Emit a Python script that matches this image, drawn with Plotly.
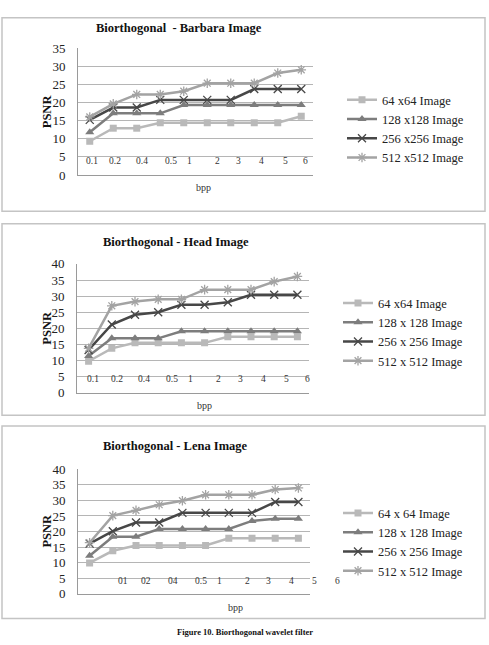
import plotly.graph_objects as go

W, H = 489, 645

# ---------------- data ----------------
bpp = ["0.1", "0.2", "0.4", "0.5", "1", "2", "3", "4", "5", "6"]

barbara_labels = ["0.1", "0.2", "0.4", "0.5", "1", "2", "3", "4", "5", "6"]
barbara_names = ["64 x64 Image", "128 x128 Image", "256 x256 Image", "512 x512 Image"]
barbara_64 = [9.3, 12.9, 12.9, 14.4, 14.4, 14.4, 14.4, 14.4, 14.4, 16.2]
barbara_128 = [11.8, 17.0, 17.0, 17.0, 19.3, 19.3, 19.3, 19.3, 19.3, 19.3]
barbara_256 = [15.2, 18.6, 18.6, 20.7, 20.7, 20.7, 20.7, 23.7, 23.7, 23.7]
barbara_512 = [16.0, 19.6, 22.2, 22.2, 23.1, 25.3, 25.3, 25.3, 28.1, 29.0]

head_labels = ["0.1", "0.2", "0.4", "0.5", "1", "2", "3", "4", "5", "6"]
head_names = ["64 x64 Image", "128 x 128 Image", "256 x 256 Image", "512 x 512 Image"]
head_64 = [9.8, 13.8, 15.5, 15.5, 15.5, 15.5, 17.4, 17.4, 17.4, 17.4]
head_128 = [11.4, 16.9, 16.9, 16.9, 19.1, 19.1, 19.1, 19.1, 19.1, 19.1]
head_256 = [13.3, 21.2, 24.2, 25.0, 27.3, 27.3, 28.1, 30.4, 30.4, 30.4]
head_512 = [13.8, 27.0, 28.3, 29.0, 29.0, 32.0, 32.0, 32.0, 34.5, 36.1]

lena_labels = ["01", "02", "04", "0.5", "1", "2", "3", "4", "5", "6"]
lena_names = ["64 x 64 Image", "128 x 128 Image", "256 x 256 Image", "512 x 512 Image"]
lena_64 = [9.9, 13.8, 15.5, 15.5, 15.5, 15.5, 17.8, 17.8, 17.8, 17.8]
lena_128 = [12.2, 18.3, 18.3, 20.8, 20.8, 20.8, 20.8, 23.4, 24.1, 24.1]
lena_256 = [16.1, 20.1, 22.9, 22.9, 26.0, 26.0, 26.0, 26.0, 29.5, 29.5]
lena_512 = [16.4, 25.1, 26.8, 28.6, 29.9, 31.8, 31.8, 31.8, 33.5, 34.0]

titles = ["Biorthogonal  - Barbara Image", "Biorthogonal - Head Image", "Biorthogonal - Lena Image"]
caption = "Figure 10. Biorthogonal wavelet filter"

# ---------------- styling / layout ----------------
SERIF = "Liberation Serif, Times New Roman, DejaVu Serif, serif"
colors = ["#b9b9b9", "#7d7d7d", "#474747", "#a3a3a3"]

def px(x):
    return x / W

def py(y):
    return 1 - y / H

panels = [
    dict(series=[barbara_64, barbara_128, barbara_256, barbara_512], names=barbara_names,
         labels=barbara_labels, ymax=35,
         xdom=(78, 313), ydom=(42, 172), box=(2, 11, 485, 209),
         title=(178.7, 22), psnr=(47, 106.7), bpp=(203, 185),
         lab_pos=[0.08, 1.09, 2.21, 3.44, 4.24, 5.43, 6.34, 7.32, 8.31, 9.2], lab_y=3.9,
         legend=(342, 80)),
    dict(series=[head_64, head_128, head_256, head_512], names=head_names,
         labels=head_labels, ymax=40,
         xdom=(77, 309), ydom=(263, 395), box=(2, 222, 485, 418),
         title=(176, 241), psnr=(47, 328.3), bpp=(204, 407.7),
         lab_pos=[0.2, 1.21, 2.39, 3.61, 4.41, 5.62, 6.54, 7.52, 8.51, 9.43], lab_y=4.35,
         legend=(338, 288)),
    dict(series=[lena_64, lena_128, lena_256, lena_512], names=lena_names,
         labels=lena_labels, ymax=40,
         xdom=(78, 310), ydom=(473.3, 600.7), box=(2, 429, 485, 626),
         title=(175.7, 449.3), psnr=(47, 536), bpp=(235, 615),
         lab_pos=[1.43, 2.42, 3.61, 4.8, 5.62, 6.8, 7.72, 8.71, 9.68, 10.67], lab_y=4.2,
         legend=(338, 503)),
]

symbols = [
    dict(symbol="square", size=7, color=colors[0]),
    dict(symbol="triangle-up", size=8, color=colors[1]),
    dict(symbol="x-thin-open", size=8, color=colors[2], line=dict(color=colors[2], width=1.3)),
    dict(symbol="asterisk-open", size=8, color=colors[3], line=dict(color=colors[3], width=1.3)),
]

fig = go.Figure()
layout = dict(
    width=W, height=H, margin=dict(l=0, r=0, t=0, b=0),
    paper_bgcolor="white", plot_bgcolor="white",
    font=dict(family=SERIF, color="#222"),
    showlegend=True,
)
annotations = []
shapes = []

for i, p in enumerate(panels):
    n = i + 1
    xa = "x" if n == 1 else f"x{n}"
    ya = "y" if n == 1 else f"y{n}"
    lg = "legend" if n == 1 else f"legend{n}"
    for s, (vals, name) in enumerate(zip(p["series"], p["names"])):
        fig.add_trace(go.Scatter(
            x=bpp, y=vals, name=name, mode="lines+markers",
            line=dict(color=colors[s], width=2.5),
            marker=symbols[s], xaxis=xa, yaxis=ya, legend=lg,
        ))
    xkey = "xaxis" if n == 1 else f"xaxis{n}"
    ykey = "yaxis" if n == 1 else f"yaxis{n}"
    layout[xkey] = dict(
        domain=[px(p["xdom"][0]), px(p["xdom"][1])], anchor=ya,
        type="category", range=[-0.5, 9.5], showticklabels=False, ticks="",
        showgrid=False, showline=True, linecolor="#9a9a9a", linewidth=1,
        zeroline=False, fixedrange=True,
    )
    layout[ykey] = dict(
        domain=[py(p["ydom"][1]), py(p["ydom"][0])], anchor=xa,
        range=[0, p["ymax"]], dtick=5, tick0=0,
        showgrid=True, gridcolor="#b5b5b5", gridwidth=1,
        showline=True, linecolor="#9a9a9a", linewidth=1, zeroline=False,
        ticks="", ticklabelstandoff=9,
        tickfont=dict(family=SERIF, size=13, color="#222"),
    )
    layout[lg] = dict(
        x=px(p["legend"][0]), y=py(p["legend"][1]), xanchor="left", yanchor="top",
        font=dict(family=SERIF, size=12.5, color="#222"),
        bgcolor="rgba(0,0,0,0)", borderwidth=0, itemwidth=30, tracegroupgap=0,
    )
    # box
    bx = p["box"]
    shapes.append(dict(type="rect", xref="paper", yref="paper",
                       x0=px(bx[0]), x1=px(bx[2]), y0=py(bx[3]), y1=py(bx[1]),
                       line=dict(color="#c4c4c4", width=1.5)))
    # title
    annotations.append(dict(text="<b>" + titles[i] + "</b>", xref="paper", yref="paper",
                            x=px(p["title"][0]), y=py(p["title"][1]),
                            xanchor="center", yanchor="middle", showarrow=False,
                            font=dict(family=SERIF, size=12.5, color="#111")))
    # PSNR
    annotations.append(dict(text="<b>PSNR</b>", xref="paper", yref="paper",
                            x=px(p["psnr"][0]), y=py(p["psnr"][1]), textangle=-90,
                            xanchor="center", yanchor="middle", showarrow=False,
                            font=dict(family=SERIF, size=12.5, color="#111")))
    # bpp
    annotations.append(dict(text="bpp", xref="paper", yref="paper",
                            x=px(p["bpp"][0]), y=py(p["bpp"][1]),
                            xanchor="center", yanchor="middle", showarrow=False,
                            font=dict(family=SERIF, size=10, color="#333")))
    # x labels (scattered as in the original), positioned in paper space
    x0, x1 = p["xdom"]
    y0, y1 = p["ydom"]
    for lab, pos in zip(p["labels"], p["lab_pos"]):
        lx = x0 + (pos + 0.5) / 10 * (x1 - x0)
        ly = y1 - p["lab_y"] / p["ymax"] * (y1 - y0)
        annotations.append(dict(text=lab, xref="paper", yref="paper", x=px(lx), y=py(ly),
                                xanchor="center", yanchor="middle", showarrow=False,
                                font=dict(family=SERIF, size=9.5, color="#333")))

annotations.append(dict(text="<b>" + caption + "</b>", xref="paper", yref="paper",
                        x=px(245), y=py(633), xanchor="center", yanchor="top",
                        showarrow=False, font=dict(family=SERIF, size=8.5, color="#111")))

layout["annotations"] = annotations
layout["shapes"] = shapes
fig.update_layout(**layout)
fig.write_html("out.html")
